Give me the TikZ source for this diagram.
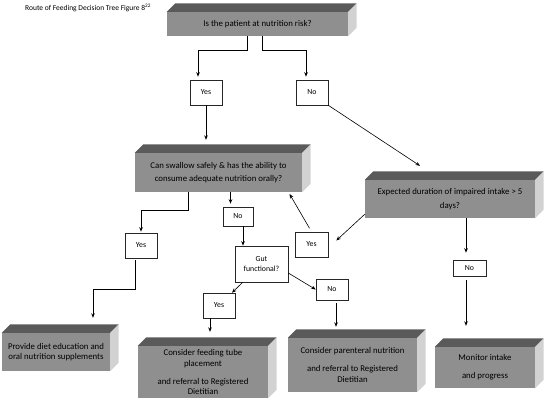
\documentclass[tikz,border=0pt]{standalone}
\usepackage{fontspec}
\setmainfont{Carlito}
\usetikzlibrary{arrows.meta}
\definecolor{grisFrente}{HTML}{8F8F8F}
\definecolor{grisTapa}{HTML}{5A5A5A}
\definecolor{grisLado}{HTML}{D2D2D2}
\tikzset{
  cajaBase/.style={
    inner sep=2pt, align=center, text=black,
    font=\fontsize{8.8}{10.5}\selectfont
  },
  caja3d/.style={cajaBase, fill=grisFrente},
  cajaRespuesta/.style={cajaBase, draw=black!85, line width=0.6pt, fill=white,
    minimum width=32, minimum height=25, font=\fontsize{7.8}{10}\selectfont},
  titulo/.style={font=\fontsize{7.5}{9}\selectfont, inner sep=0pt, anchor=west},
  tapa/.style={fill=grisTapa},
  lado/.style={fill=grisLado},
  flecha/.style={-{Stealth[length=4.5pt,width=3.6pt]}, line width=0.8pt, black},
}

\begin{document}
\begin{tikzpicture}[x=1pt, y=-1pt]
    \useasboundingbox (0,0) rectangle (545,400);

    \node[titulo] (titulo) at (25,8) {Route of Feeding Decision Tree Figure 8\textsuperscript{22}};

    % cajas de decision
    \node[caja3d, minimum width=181, minimum height=24] (riesgo) at (257.5,24)
      {Is the patient at nutrition risk?};
    \node[caja3d, minimum width=167, minimum height=39] (deglucion) at (218.5,172.5)
      {Can swallow safely \& has the ability to\\[2.5pt]consume adequate nutrition orally?};
    \node[caja3d, minimum width=170, minimum height=38] (duracion) at (450,199)
      {Expected duration of impaired intake > 5\\[3.5pt]days?};

    % cajas finales
    \node[caja3d, minimum width=108, minimum height=38] (dieta) at (56,352)
      {Provide diet education and\\oral nutrition supplements};
    \node[caja3d, minimum width=130, minimum height=52] (sonda) at (203,372)
      {Consider feeding tube\\placement\\[7.5pt]and referral to Registered\\Dietitian};
    \node[caja3d, minimum width=129, minimum height=54] (parenteral) at (352.5,365)
      {Consider parenteral nutrition\\[7.5pt]and referral to Registered\\Dietitian};
    \node[caja3d, minimum width=100, minimum height=41] (monitoreo) at (485,367.5)
      {Monitor intake\\[7.5pt]and progress};

    % tapas y lados
    \foreach \n in {riesgo, deglucion, duracion, dieta, sonda, parenteral, monitoreo}{
      \fill[tapa] (\n.north west) -- ([shift={(8.5,-8.5)}]\n.north west)
        -- ([shift={(8.5,-8.5)}]\n.north east) -- (\n.north east) -- cycle;
      \fill[lado] (\n.north east) -- ([shift={(8.5,-8.5)}]\n.north east)
        -- ([shift={(8.5,-8.5)}]\n.south east) -- (\n.south east) -- cycle;
    }

    % respuestas
    \node[cajaRespuesta] (si1) at (206,92.5) {Yes};
    \node[cajaRespuesta] (no1) at (312,92.5) {No};
    \node[cajaRespuesta] (si3) at (141,245.5) {Yes};
    \node[cajaRespuesta, minimum width=30, minimum height=19] (no2) at (238,216.5) {No};
    \node[cajaRespuesta, minimum width=53, minimum height=36] (intestino) at (261.5,264)
      {Gut\\functional?};
    \node[cajaRespuesta, minimum width=33] (si2) at (311.5,244.5) {Yes};
    \node[cajaRespuesta] (si4) at (219,305.5) {Yes};
    \node[cajaRespuesta, minimum height=21] (no3) at (332,289.5) {No};
    \node[cajaRespuesta, minimum width=33, minimum height=16] (no4) at (469.5,268) {No};

    \draw[flecha, shorten >=3pt] ([xshift=-10]riesgo.south) -- ++(0,14) -| ([xshift=-8]si1.north);
    \draw[flecha, shorten >=3pt] ([xshift=5]riesgo.south) -- ++(0,14) -| ([xshift=-6]no1.north);
    \draw[flecha, shorten >=13pt] (si1.south) -- (si1.south |- deglucion.north);
    \draw[flecha, line width=0.6pt] (no1.south east) -- ([shift={(-30,-14)}]duracion.north);

    \draw[flecha, shorten >=1pt] ([xshift=-30]deglucion.south) -- ++(0,18) -| (si3.north);
    \draw[flecha, shorten >=3pt] ([xshift=12]deglucion.south) -- ([xshift=12]deglucion.south |- no2.north);
    \draw[flecha, line width=0.6pt] ([yshift=4]duracion.south west) -- ([xshift=8,yshift=4]si2.east);
    \draw[flecha, line width=0.6pt, shorten <=4pt, shorten >=2pt] (si2.north) -- ([xshift=70]deglucion.south);

    \draw[flecha] ([xshift=5]no2.south) -- ([xshift=5]no2.south |- intestino.north);
    \draw[flecha, line width=0.6pt] ([xshift=8]intestino.south west) -- ([xshift=13]si4.north);
    \draw[flecha, line width=0.6pt] ([yshift=-9]intestino.east) -- (no3.west);

    \draw[flecha, shorten <=2pt, shorten >=15pt] ([xshift=-6]si3.south) -- ++(0,31) -| ([xshift=37]dieta.north);
    \draw[flecha, shorten >=14pt] ([xshift=-9]si4.south) -- ([xshift=-9]si4.south |- sonda.north);
    \draw[flecha, shorten <=3pt, shorten >=11pt] ([xshift=4]no3.south) -- ([xshift=4]no3.south |- parenteral.north);

    \draw[flecha, shorten >=7pt] ([xshift=16]duracion.south) -- ([xshift=16]duracion.south |- no4.north);
    \draw[flecha, shorten <=4pt, shorten >=21pt] ([xshift=-3.5]no4.south) -- ([xshift=-3.5]no4.south |- monitoreo.north);
  \end{tikzpicture}
\end{document}
